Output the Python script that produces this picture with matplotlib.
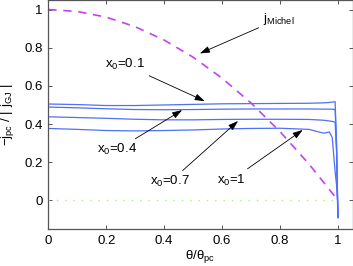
import matplotlib
matplotlib.use("Agg")
import matplotlib.pyplot as plt

plt.rcParams["font.family"] = ["Liberation Sans", "DejaVu Sans"]
plt.rcParams["mathtext.fontset"] = "custom"
plt.rcParams["mathtext.rm"] = "Liberation Sans"
plt.rcParams["mathtext.it"] = "Liberation Sans"

# theta / theta_pc sample points for the blue curves
theta = [0, 0.1, 0.2, 0.3, 0.4, 0.5, 0.6, 0.7, 0.8, 0.9, 0.95, 0.97, 0.98, 0.99, 0.995, 0.998, 1.0]

j_x01 = [0.505, 0.502, 0.497, 0.497, 0.500, 0.503, 0.506, 0.507, 0.508, 0.509, 0.511, 0.513, 0.515, 0.517, 0.30, 0.05, -0.09]
j_x04 = [0.489, 0.485, 0.480, 0.476, 0.475, 0.476, 0.478, 0.479, 0.479, 0.479, 0.478, 0.478, 0.478, 0.476, 0.28, 0.04, -0.09]
j_x07 = [0.438, 0.434, 0.430, 0.425, 0.422, 0.422, 0.424, 0.425, 0.425, 0.424, 0.420, 0.416, 0.414, 0.410, 0.25, 0.03, -0.09]
j_x1 = [0.377, 0.372, 0.366, 0.364, 0.366, 0.369, 0.374, 0.377, 0.378, 0.372, 0.352, 0.358, 0.33, 0.15, 0.08, 0.0, -0.09]

# Michel current density
theta_m = [0, 0.1, 0.2, 0.3, 0.4, 0.5, 0.6, 0.7, 0.8, 0.9, 1.0]
j_michel = [1.0, 0.99, 0.96, 0.91, 0.84, 0.75, 0.64, 0.51, 0.36, 0.19, 0.0]

fig = plt.figure(figsize=(3.53, 2.66), dpi=100)
ax = fig.add_axes([48.3 / 353, 37 / 266, (352.5 - 48.3) / 353, 229 / 266])

blue = "#4f70f8"
for j in [j_x01, j_x04, j_x07, j_x1]:
    ax.plot(theta, j, color=blue, lw=0.9)
ax.plot(theta_m, j_michel, color="#c043f2", lw=1.2, dashes=(5, 4))
ax.plot([0, 1], [0, 0], color="#a8f07a", lw=1.0, linestyle=(0, (1, 5)))

arrow = dict(arrowstyle="-|>,head_length=0.6,head_width=0.2", color="k", lw=0.6,
             mutation_scale=10, shrinkA=1, shrinkB=0)
fs = 9.5
ax.annotate("j$_{\\rm Michel}$", xy=(0.523, 0.77), xytext=(0.74, 0.95),
            ha="left", va="center", fontsize=fs, arrowprops=arrow)
ax.annotate("x$_{\\rm 0}$=0.1", xy=(0.54, 0.52), xytext=(0.266, 0.71),
            ha="center", va="center", fontsize=fs, arrowprops=arrow)
ax.annotate("x$_{\\rm 0}$=0.4", xy=(0.462, 0.473), xytext=(0.238, 0.265),
            ha="center", va="center", fontsize=fs, arrowprops=arrow)
ax.annotate("x$_{\\rm 0}$=0.7", xy=(0.655, 0.416), xytext=(0.42, 0.097),
            ha="center", va="center", fontsize=fs, arrowprops=arrow)
ax.annotate("x$_{\\rm 0}$=1", xy=(0.878, 0.369), xytext=(0.633, 0.107),
            ha="center", va="center", fontsize=fs, arrowprops=arrow)

ax.set_xlim(0, 1.05)
ax.set_ylim(-0.15, 1.05)
ax.set_xticks([0, 0.2, 0.4, 0.6, 0.8, 1])
ax.set_xticklabels(["0", "0.2", "0.4", "0.6", "0.8", "1"])
ax.set_yticks([0, 0.2, 0.4, 0.6, 0.8, 1])
ax.set_yticklabels(["0", "0.2", "0.4", "0.6", "0.8", "1"])
ax.tick_params(direction="in", length=3, width=0.7, color="#555555",
               labelsize=fs, top=True, right=True, pad=4)
for s in ax.spines.values():
    s.set_color("#555555")
    s.set_linewidth(0.9)

ax.set_xlabel("θ/θ$_{\\rm pc}$", fontsize=fs, labelpad=1)
ax.set_ylabel("$-$j$_{\\rm pc}$ / | j$_{\\rm GJ}$ |", fontsize=fs, labelpad=6)

fig.savefig("out.png", dpi=100)
